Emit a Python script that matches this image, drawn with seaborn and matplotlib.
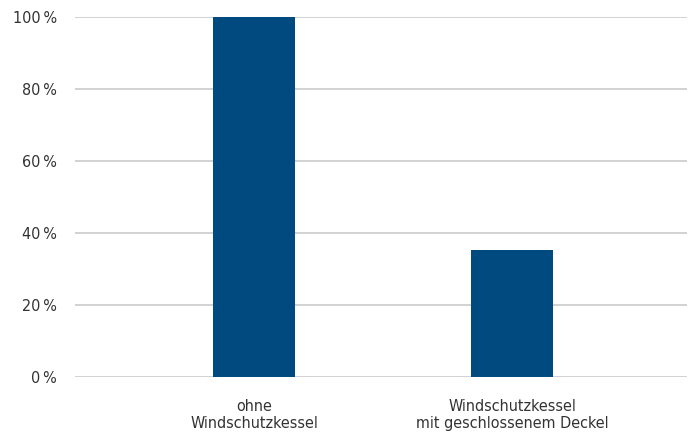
import matplotlib
matplotlib.use("Agg")
import matplotlib.pyplot as plt
import seaborn as sns
import pandas as pd
from matplotlib.ticker import FuncFormatter

categories = ["ohne\nWindschutzkessel", "Windschutzkessel\nmit geschlossenem Deckel"]
values = [100, 35.3]
yticks = [0, 20, 40, 60, 80, 100]

sns.set_theme(style="white")
plt.rcParams['font.family'] = ['DejaVu Sans']
plt.rcParams['font.stretch'] = 'condensed'

df = pd.DataFrame({"cat": categories, "val": values})

fig = plt.figure(figsize=(6.92, 4.37), dpi=100)
ax = fig.add_axes([75/692, 60/437, 612/692, 360/437])

sns.barplot(data=df, x="cat", y="val", color="#004a7f", saturation=1, width=0.318,
            linewidth=0, ax=ax, zorder=3)

ax.set_xlim(-0.694, 1.678)
ax.set_ylim(0, 100)
ax.set_yticks(yticks)
ax.yaxis.set_major_formatter(FuncFormatter(lambda v, p: f"{int(v)}\u2009%"))
ax.grid(axis="y", color="#cbcbcb", linewidth=1.2, zorder=0)
ax.set_axisbelow(True)
for s in ax.spines.values():
    s.set_visible(False)
ax.set_xlabel("")
ax.set_ylabel("")
ax.tick_params(axis="y", length=0, pad=13, labelsize=11.5, labelcolor="#333333")
ax.tick_params(axis="x", length=0, pad=16, labelsize=11.5, labelcolor="#333333")
for lbl in ax.get_xticklabels():
    lbl.set_linespacing(1.15)

fig.savefig("out.png", dpi=100)
